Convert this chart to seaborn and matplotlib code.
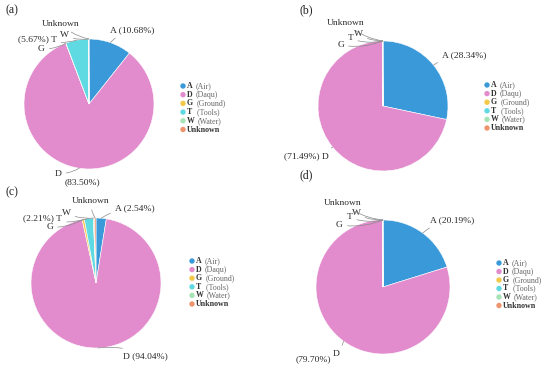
import matplotlib
matplotlib.use("Agg")
import numpy as np
import matplotlib.pyplot as plt
import seaborn as sns

# ==============================
# DATA
# ==============================
keys = ["A", "D", "G", "T", "W", "Unknown"]
legend_desc = ["(Air)", "(Daqu)", "(Ground)", " (Tools)", "(Water)", ""]
colors = ["#3a9ad9", "#e28ccd", "#f3c94a", "#5fd9e2", "#a6e3b6", "#f0946c"]

vals_a = [10.68, 83.50, 0.06, 5.67, 0.05, 0.04]
vals_b = [28.34, 71.49, 0.06, 0.05, 0.03, 0.03]
vals_c = [2.54, 94.04, 0.55, 2.21, 0.25, 0.41]
vals_d = [20.19, 79.70, 0.04, 0.03, 0.02, 0.02]

# ==============================
# LAYOUT (pixels, top-left origin)
# ==============================
W_PX, H_PX = 550, 371
panels = [
    # tag, values, centre x, centre y, radius, tag pos, legend (x, first y, step)
    ("(a)", vals_a, 89, 104, 65, (6, 10), (183, 86, 8.7)),
    ("(b)", vals_b, 383, 106, 65, (299, 10), (487, 85, 8.6)),
    ("(c)", vals_c, 96, 283, 65, (6, 192), (192, 261, 8.6)),
    ("(d)", vals_d, 383, 287, 67, (299, 175), (499, 263, 8.5)),
]

# label placement per panel: key -> (dx, dy, ha, template)
label_specs = [
    {"A": (0.32, 1.14, "left", "{k} ({v:.2f}%)"),
     "D": (-0.42, -1.07, "right", "{k}"),
     "G": (-0.68, 0.85, "right", "{k}"),
     "T": (-0.50, 1.00, "right", "({v:.2f}%) {k}"),
     "W": (-0.38, 1.06, "center", "{k}"),
     "Unknown": (-0.43, 1.23, "center", "{k}")},
    {"A": (0.91, 0.78, "left", "{k} ({v:.2f}%)"),
     "D": (-0.84, -0.77, "right", "({v:.2f}%) {k}"),
     "G": (-0.60, 0.94, "right", "{k}"),
     "T": (-0.50, 1.04, "center", "{k}"),
     "W": (-0.38, 1.11, "center", "{k}"),
     "Unknown": (-0.58, 1.28, "center", "{k}")},
    {"A": (0.29, 1.15, "left", "{k} ({v:.2f}%)"),
     "D": (0.42, -1.12, "left", "{k} ({v:.2f}%)"),
     "G": (-0.66, 0.86, "right", "{k}"),
     "T": (-0.52, 0.99, "right", "({v:.2f}%) {k}"),
     "W": (-0.46, 1.08, "center", "{k}"),
     "Unknown": (-0.08, 1.26, "center", "{k}")},
    {"A": (0.70, 1.00, "left", "{k} ({v:.2f}%)"),
     "D": (-0.70, -1.00, "center", "{k}"),
     "G": (-0.60, 0.93, "right", "{k}"),
     "T": (-0.50, 1.04, "center", "{k}"),
     "W": (-0.40, 1.10, "center", "{k}"),
     "Unknown": (-0.60, 1.25, "center", "{k}")},
]

sns.set_theme(style="white")
plt.rcParams["font.family"] = ["Liberation Serif", "DejaVu Serif"]
text_col = "#2a2a2a"
line_col = "#8a8a8a"
fs = 6.8
leg_fs = 5.7

fig = plt.figure(figsize=(W_PX / 100, H_PX / 100), dpi=100)
fig.patch.set_facecolor("white")

# overlay in pixel coordinates for panel tags and legends
over = fig.add_axes([0, 0, 1, 1])
over.set_xlim(0, W_PX)
over.set_ylim(H_PX, 0)
over.axis("off")

for (tag, vals, cx, cy, r, tag_pos, leg), spec in zip(panels, label_specs):
    half = 1.6 * r
    ax = fig.add_axes([(cx - half) / W_PX, (H_PX - cy - half) / H_PX,
                       2 * half / W_PX, 2 * half / H_PX])

    ax.pie(vals, colors=colors, startangle=90, counterclock=False,
           radius=1.0, wedgeprops=dict(edgecolor="white", linewidth=0.4))
    ax.set_xlim(-1.6, 1.6)
    ax.set_ylim(-1.6, 1.6)
    ax.set_aspect("equal")
    ax.axis("off")

    cum = np.cumsum([0] + vals[:-1])
    total = sum(vals)
    for k, v, c0 in zip(keys, vals, cum):
        dx, dy, ha, tmpl = spec[k]
        ang = np.deg2rad(90 - 360 * (c0 + v / 2) / total)
        xy = (np.cos(ang), np.sin(ang))
        ax.annotate(tmpl.format(k=k, v=v), xy=xy, xytext=(dx, dy),
                    ha=ha, va="center", fontsize=fs, color=text_col,
                    annotation_clip=False,
                    arrowprops=dict(arrowstyle="-", color=line_col, lw=0.5,
                                    shrinkA=1, shrinkB=0,
                                    connectionstyle="arc3,rad=0.15"))
    if tag == "(a)":
        ax.text(-0.38, -1.21, "({:.2f}%)".format(vals[1]), ha="left", va="center",
                fontsize=fs, color=text_col)
    if tag == "(d)":
        ax.text(-0.78, -1.08, "({:.2f}%)".format(vals[1]), ha="right", va="center",
                fontsize=fs, color=text_col)

    over.text(tag_pos[0], tag_pos[1], tag, fontsize=8.5,
              ha="left", va="center", color="#222222")

    # legend: coloured dot, bold key, grey description
    lx, ly, step = leg
    ys = ly + step * np.arange(len(keys))
    over.scatter([lx] * len(keys), ys, s=15, c=colors, linewidths=0)
    for k, d, y in zip(keys, legend_desc, ys):
        kt = over.text(lx + 4, y, k, fontsize=leg_fs, fontweight="bold",
                       ha="left", va="center", color="#333333")
        if d:
            over.annotate(d, xy=(1, 0.5), xycoords=kt, xytext=(2.2, 0),
                          textcoords="offset points", ha="left", va="center",
                          fontsize=leg_fs, color="#666666")

fig.savefig("out.png", dpi=100, facecolor="white")
